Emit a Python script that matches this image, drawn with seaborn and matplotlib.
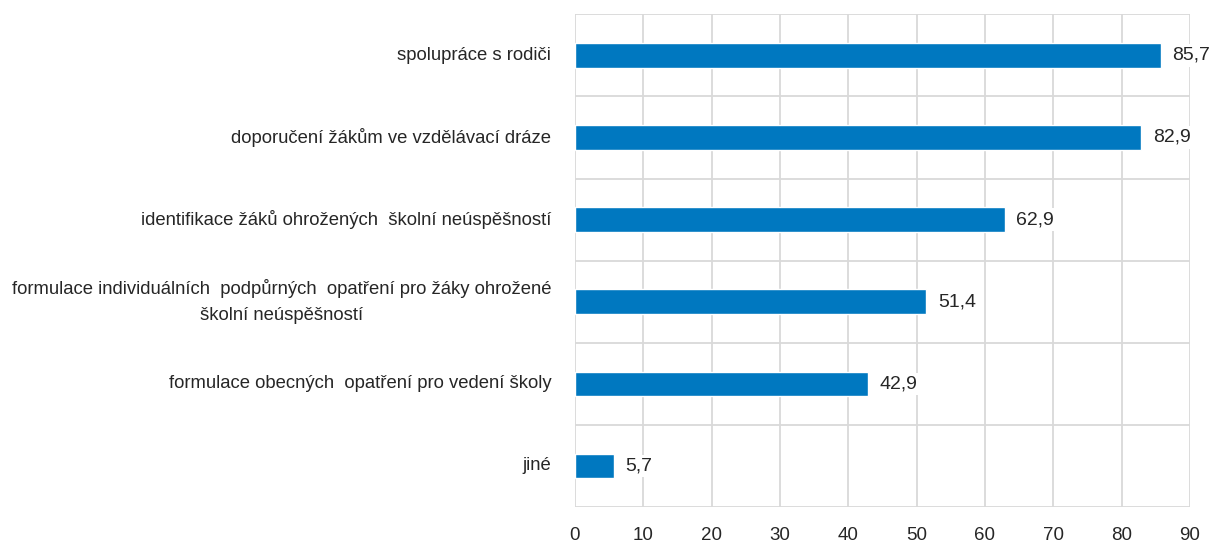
import numpy as np
import pandas as pd
import seaborn as sns
import matplotlib.pyplot as plt
from matplotlib.ticker import FixedLocator

# data
categories = [
    'spolupráce s rodiči',
    'doporučení žákům ve vzdělávací dráze',
    'identifikace žáků ohrožených  školní neúspěšností',
    'formulace individuálních  podpůrných  opatření pro žáky ohrožené\nškolní neúspěšností',
    'formulace obecných  opatření pro vedení školy',
    'jiné',
]
values = [85.7, 82.9, 62.9, 51.4, 42.9, 5.7]
value_labels = ['85,7', '82,9', '62,9', '51,4', '42,9', '5,7']

BAR_COLOR = '#0078C0'
GRID_COLOR = '#D9D9D9'
TEXT_COLOR = '#262626'

sns.set_theme(style='white')
plt.rcParams['font.family'] = ['Liberation Sans Narrow', 'Liberation Sans', 'DejaVu Sans']

df = pd.DataFrame({'kategorie': categories, 'hodnota': values})

fig = plt.figure(figsize=(12.13, 5.47), dpi=100)
ax = fig.add_axes([0.474, 0.073, 0.507, 0.901])

sns.barplot(data=df, x='hodnota', y='kategorie', orient='h',
            color=BAR_COLOR, width=0.3, saturation=1, ax=ax, zorder=3)

ax.set_xlim(0, 90)
ax.set_ylim(len(categories) - 0.5, -0.5)
ax.set_xticks(np.arange(0, 91, 10))
ax.yaxis.set_minor_locator(FixedLocator(np.arange(-0.5, len(categories), 1)))
ax.grid(True, axis='x', which='major', color=GRID_COLOR, linewidth=1.3, zorder=0)
ax.grid(True, axis='y', which='minor', color=GRID_COLOR, linewidth=1.3, zorder=0)
ax.set_axisbelow(True)

for side in ['top', 'bottom', 'left', 'right']:
    ax.spines[side].set_visible(False)

ax.tick_params(axis='both', which='both', length=0, colors=TEXT_COLOR, labelsize=13.5)
ax.tick_params(axis='y', pad=17)
ax.tick_params(axis='x', pad=14)
for lbl in ax.get_yticklabels():
    lbl.set_multialignment('center')
    lbl.set_fontsize(13.3)
    lbl.set_linespacing(1.7)
    lbl.set_verticalalignment('center')

ax.set_xlabel('')
ax.set_ylabel('')

# value labels with white background
for i, (v, t) in enumerate(zip(values, value_labels)):
    ax.text(v + 1.7, i, t, va='center', ha='left', fontsize=14, color=TEXT_COLOR,
            bbox=dict(facecolor='white', edgecolor='none', pad=2), zorder=4)

fig.savefig('out.png', dpi=100)
